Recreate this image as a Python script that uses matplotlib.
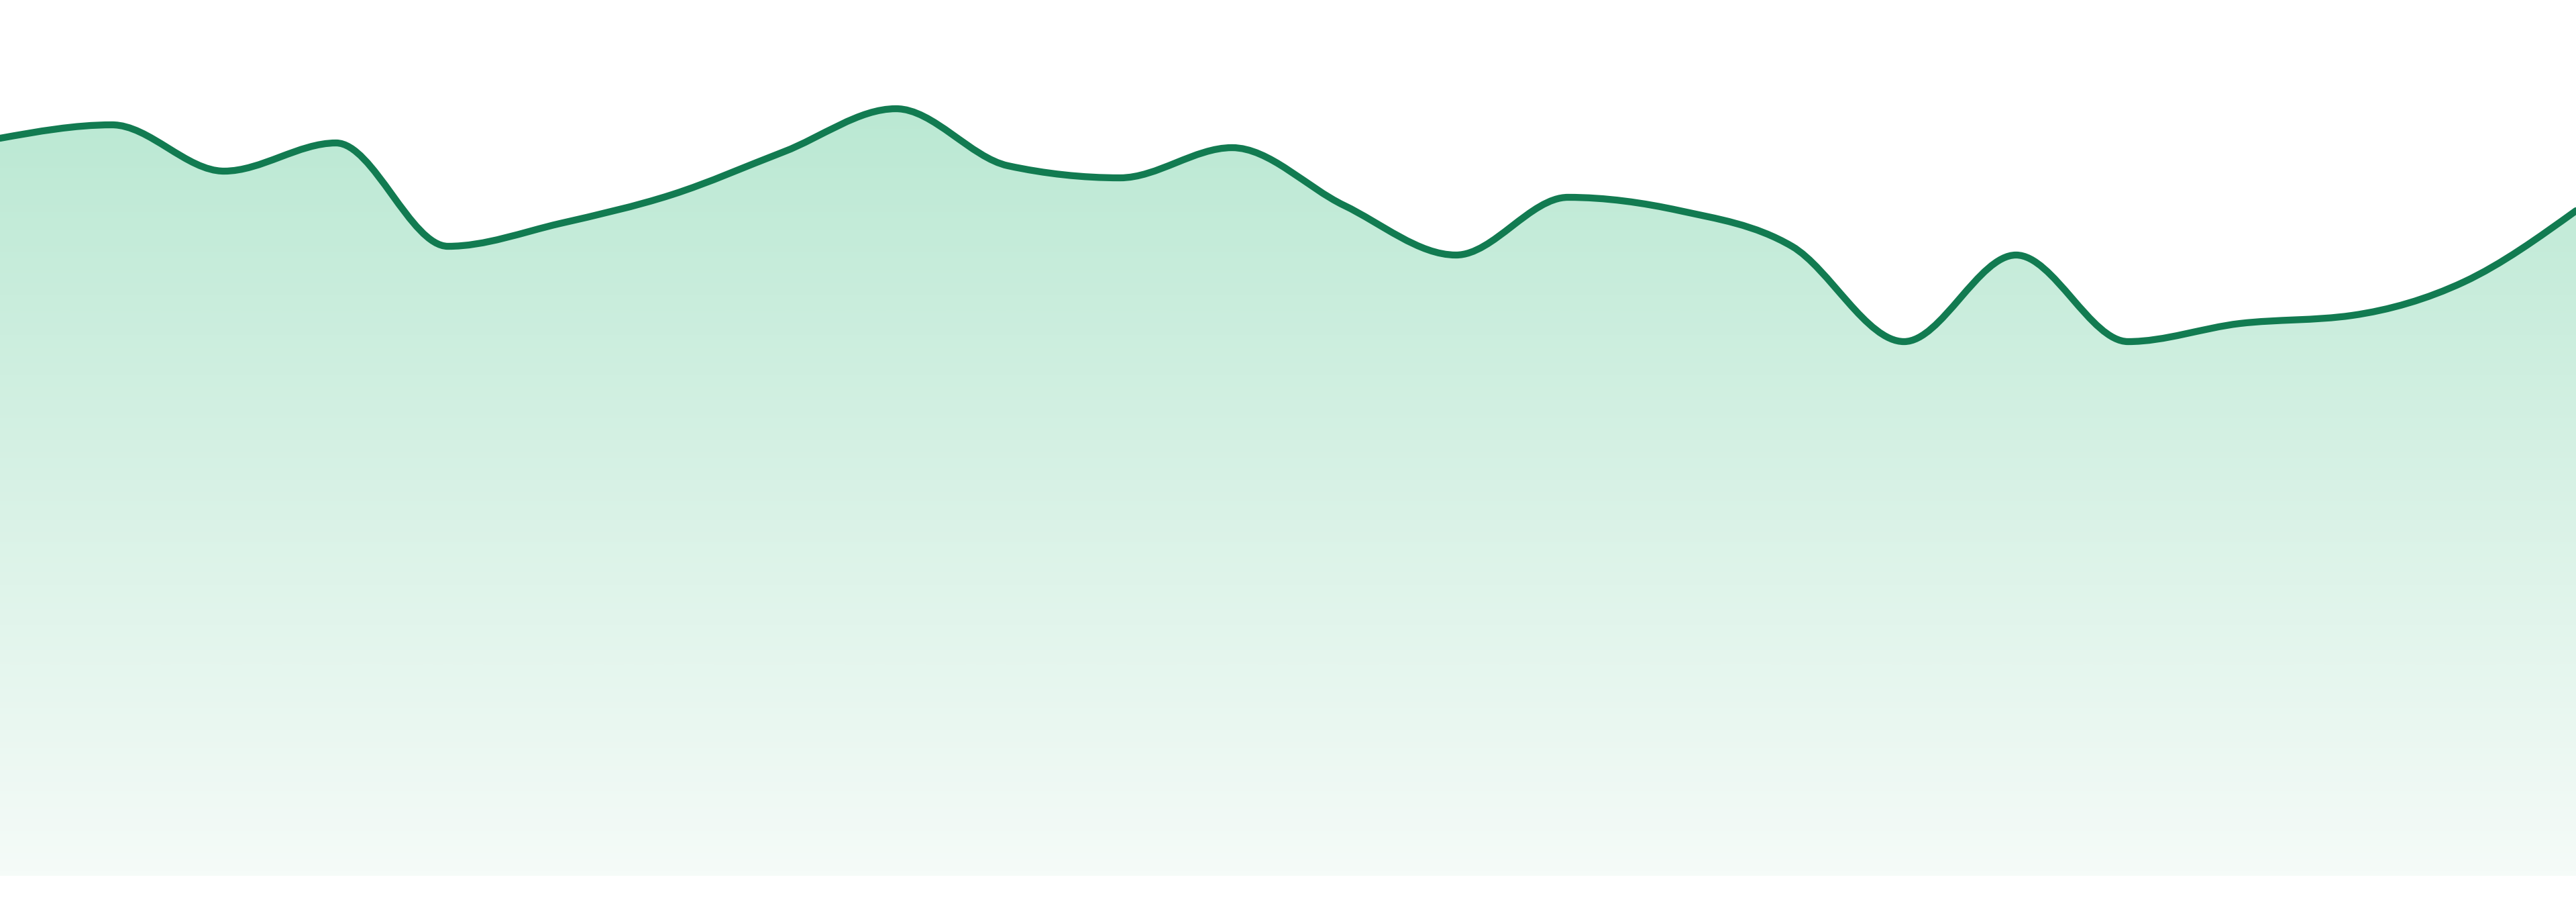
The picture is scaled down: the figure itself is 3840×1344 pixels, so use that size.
import numpy as np
import matplotlib.pyplot as plt
from matplotlib.path import Path
from matplotlib.patches import PathPatch
from matplotlib.colors import LinearSegmentedColormap

# values (arbitrary units, 0 = bottom of the area)
days = list(range(24))
values = [109.9, 111.9, 105.0, 109.2, 93.8, 97.2, 101.5, 107.9, 114.3, 105.8,
          104.0, 108.5, 99.9, 92.5, 101.1, 99.1, 93.8, 79.6, 92.5, 79.6,
          82.3, 83.5, 88.5, 99.1]

line_color = '#127b51'
grad_top = '#b9e8d2'
grad_bottom = '#f5fbf8'


def monotone_path(x, y):
    # monotone-x cubic curve (same rule as d3.curveMonotoneX)
    x = np.asarray(x, float)
    y = np.asarray(y, float)
    n = len(x)
    h = np.diff(x)
    s = np.diff(y) / h
    t = np.zeros(n)
    for i in range(1, n - 1):
        p = (s[i - 1] * h[i] + s[i] * h[i - 1]) / (h[i - 1] + h[i])
        t[i] = (np.sign(s[i - 1]) + np.sign(s[i])) * min(abs(s[i - 1]), abs(s[i]), 0.5 * abs(p))
    t[0] = (3 * s[0] - t[1]) / 2
    t[-1] = (3 * s[-1] - t[-2]) / 2
    verts = [(x[0], y[0])]
    codes = [Path.MOVETO]
    for i in range(n - 1):
        d = h[i] / 3
        verts += [(x[i] + d, y[i] + d * t[i]), (x[i + 1] - d, y[i + 1] - d * t[i + 1]), (x[i + 1], y[i + 1])]
        codes += [Path.CURVE4] * 3
    return verts, codes


fig = plt.figure(figsize=(38.4, 13.44), dpi=100)
ax = fig.add_axes([0, 39 / 1344, 1, 1305 / 1344])
ax.set_xlim(days[0], days[-1])
ax.set_ylim(0, 130.5)
ax.axis('off')

verts, codes = monotone_path(days, values)

# area under the curve, filled with a vertical gradient
area_verts = verts + [(days[-1], 0), (days[0], 0), verts[0]]
area_codes = codes + [Path.LINETO, Path.LINETO, Path.CLOSEPOLY]
area = PathPatch(Path(area_verts, area_codes), facecolor='none', edgecolor='none')
ax.add_patch(area)

cmap = LinearSegmentedColormap.from_list('fade', [grad_bottom, grad_top])
grad = np.linspace(0, 1, 256).reshape(-1, 1)
im = ax.imshow(grad, extent=[days[0], days[-1], 0, 118], origin='lower',
               aspect='auto', cmap=cmap, interpolation='bicubic', zorder=1)
im.set_clip_path(area)

line = PathPatch(Path(verts, codes), facecolor='none', edgecolor=line_color,
                 linewidth=7.4, capstyle='round', joinstyle='round', zorder=3)
ax.add_patch(line)

fig.savefig('out.png', dpi=100, facecolor='white')
